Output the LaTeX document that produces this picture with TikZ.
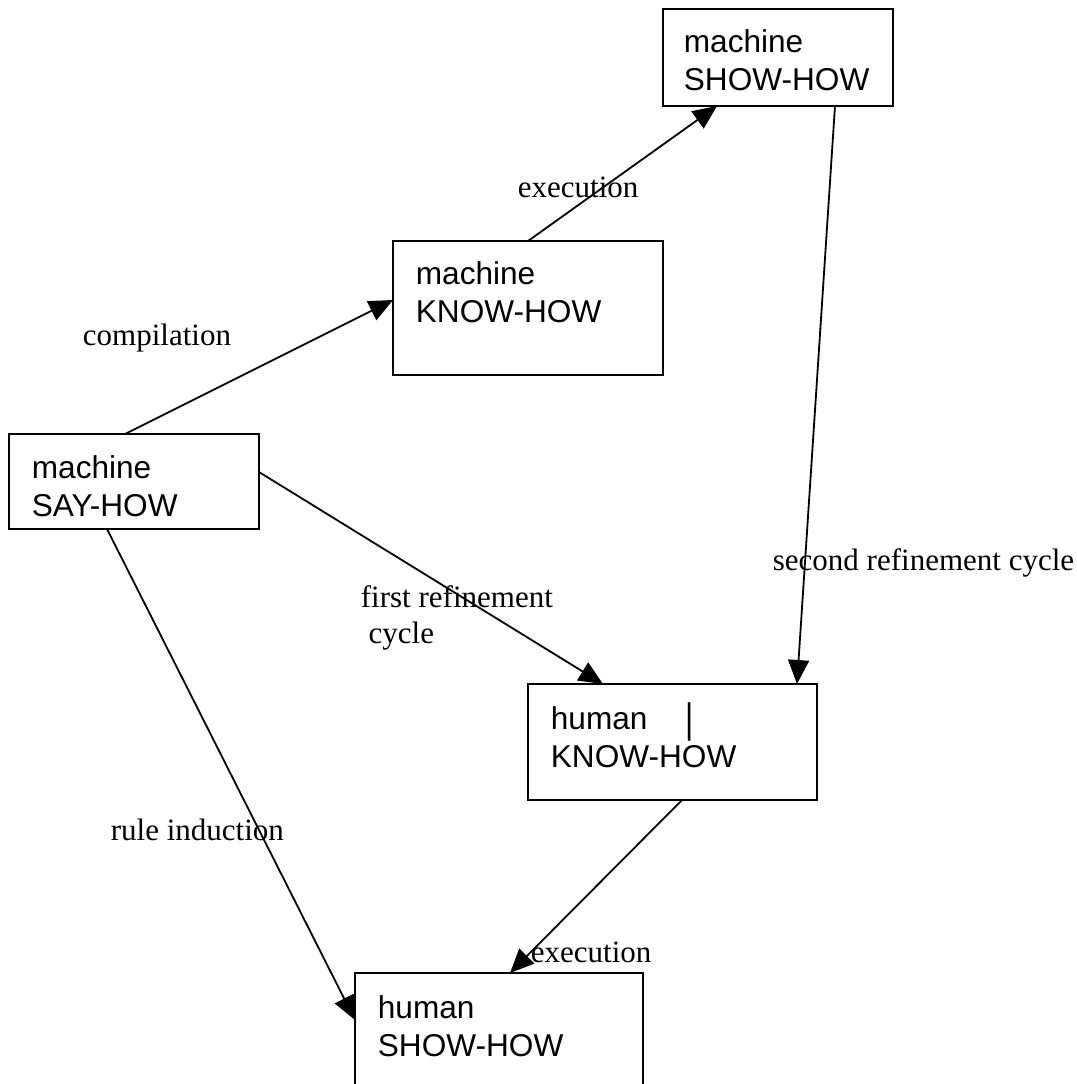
\documentclass[tikz,border=0pt]{standalone}
\usepackage{fontspec}
\setmainfont{Liberation Serif}
\newfontfamily\arialfont{Liberation Sans}
\usetikzlibrary{arrows.meta}

\begin{document}
\begin{tikzpicture}[x=0.5pt,y=-0.5pt,->,>={Triangle[length=12pt,width=10.5pt]},line width=0.9pt,
  box/.style 2 args={draw,rectangle,inner sep=0pt,outer sep=0pt,minimum width=#1*0.5pt,minimum height=#2*0.5pt},
  box text/.style={font=\arialfont\fontsize{15.8pt}{19pt}\selectfont,align=left,inner sep=0pt,anchor=base west},
  edge label/.style={font=\fontsize{15.5pt}{18pt}\selectfont,align=left,inner sep=0pt,anchor=base west}]
\clip (0,0) rectangle (1077,1084);

% boxes
\node[box={250}{95}] (say) at (134,481.5) {};
\node[box={270}{134}] (mknow) at (528,308) {};
\node[box={230}{97}] (mshow) at (778,57.5) {};
\node[box={289}{116}] (hknow) at (672.5,742) {};
\node[box={288}{150}] (hshow) at (499,1048) {};

% box texts (base = last line)
\node[box text] (sayt) at (31,516) {machine\\SAY-HOW};
\node[box text] (mknowt) at (415,322) {machine\\KNOW-HOW};
\node[box text] (mshowt) at (683,90) {machine\\SHOW-HOW};
\node[box text] (hknowt) at (550,767) {human\hspace{19pt}\raisebox{-0.12em}{\scalebox{1}[1.3]{|}}\\KNOW-HOW};
\node[box text] (hshowt) at (377,1056) {human\\SHOW-HOW};

% connectors
\draw ([xshift=-4.5pt]say.north) -- ([yshift=4pt]mknow.west);
\draw (mknow.north) -- ([xshift=-30.5pt]mshow.south);
\draw ([xshift=28.5pt]mshow.south) -- ([xshift=62.25pt]hknow.north);
\draw ([yshift=4.75pt]say.east) -- ([xshift=-34.75pt]hknow.north);
\draw ([xshift=4.75pt]hknow.south) -- ([xshift=5.5pt]hshow.north);
\draw ([xshift=-13.5pt]say.south) -- ([yshift=14pt]hshow.west);

% labels
\node[edge label] (comp) at (82,345) {compilation};
\node[edge label] (exec1) at (517,197) {execution};
\node[edge label] (first) at (360,643) {first refinement\\\ cycle};
\node[edge label] (second) at (772,570) {second refinement cycle};
\node[edge label] (rule) at (110,840) {rule induction};
\node[edge label] (exec2) at (530,962) {execution};
\end{tikzpicture}
\end{document}
